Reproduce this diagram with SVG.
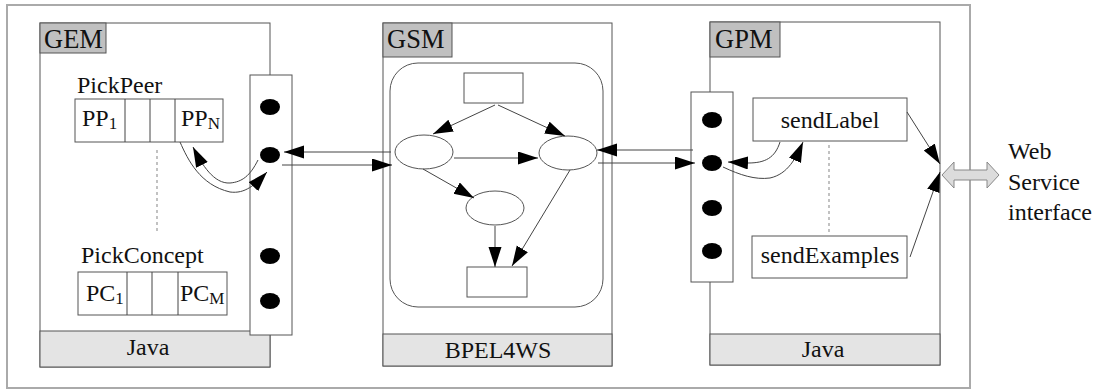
<svg xmlns="http://www.w3.org/2000/svg" width="1100" height="391" viewBox="0 0 1100 391">
<style>
.t{font-family:"Liberation Serif","Times New Roman",serif;font-size:24px;fill:#111}
.L{font-size:26.5px}
.s{font-size:17px}
.box{fill:#fff;stroke:#555;stroke-width:1}
.lab{fill:#c0c0c0;stroke:#555;stroke-width:1}
.bar{fill:#e4e4e4;stroke:#555;stroke-width:1}
.ln{fill:none;stroke:#444;stroke-width:1}
.dash{fill:none;stroke:#999;stroke-width:1.2;stroke-dasharray:3,3}
.dot{fill:#000}
</style>
<defs>
<marker id="ah" markerWidth="21" markerHeight="14" refX="20" refY="6.5" orient="auto" markerUnits="userSpaceOnUse">
<path d="M0,0 L20,6.5 L0,13 z" fill="#000"/>
</marker>
</defs>
<rect x="7" y="5" width="963" height="383" fill="#fff" stroke="#aaa" stroke-width="2"/>

<g id="GEM">
<rect class="box" x="40" y="23" width="230" height="344"/>
<rect class="bar" x="40" y="331" width="230" height="36"/>
<text class="t" x="148" y="355" text-anchor="middle">Java</text>
<rect class="lab" x="40" y="23" width="66" height="30"/>
<text class="t L" x="44" y="48">GEM</text>
<text class="t" x="77" y="93">PickPeer</text>
<rect class="box" x="75" y="99" width="148" height="43"/>
<path class="ln" d="M125,99 V142 M150,99 V142 M175,99 V142"/>
<text class="t" x="82" y="126">PP<tspan class="s" dy="3">1</tspan></text>
<text class="t" x="181" y="126">PP<tspan class="s" dy="3">N</tspan></text>
<line class="dash" x1="157" y1="150" x2="157" y2="233"/>
<text class="t" x="81" y="263">PickConcept</text>
<rect class="box" x="78" y="272" width="149" height="43"/>
<path class="ln" d="M127,272 V315 M152,272 V315 M178,272 V315"/>
<text class="t" x="86" y="301">PC<tspan class="s" dy="3">1</tspan></text>
<text class="t" x="180" y="301">PC<tspan class="s" dy="3">M</tspan></text>
</g>

<g id="GEM-interface">
<rect class="box" x="250" y="75" width="42" height="260"/>
<ellipse class="dot" cx="270" cy="107" rx="10" ry="8"/>
<ellipse class="dot" cx="270" cy="155" rx="10" ry="8"/>
<ellipse class="dot" cx="270" cy="256" rx="10" ry="8"/>
<ellipse class="dot" cx="270" cy="301" rx="10" ry="8"/>
</g>

<g id="GSM">
<rect class="box" x="383" y="23" width="229" height="343"/>
<rect class="bar" x="383" y="334" width="229" height="32"/>
<text class="t" x="498" y="358" text-anchor="middle">BPEL4WS</text>
<rect class="lab" x="383" y="23" width="69" height="34"/>
<text class="t L" x="387" y="48">GSM</text>
<rect class="box" x="390" y="63" width="213" height="244" rx="28" ry="28"/>
<rect class="box" x="464" y="73" width="59" height="30"/>
<ellipse class="box" cx="424" cy="152" rx="29" ry="17"/>
<ellipse class="box" cx="568" cy="153" rx="29" ry="17"/>
<ellipse class="box" cx="495" cy="208" rx="29" ry="17"/>
<rect class="box" x="467" y="267" width="60" height="30"/>
</g>

<g id="GPM">
<rect class="box" x="710" y="22" width="230" height="343"/>
<rect class="bar" x="710" y="334" width="230" height="31"/>
<text class="t" x="823" y="357" text-anchor="middle">Java</text>
<rect class="lab" x="710" y="22" width="70" height="35"/>
<text class="t L" x="715" y="48">GPM</text>
<rect class="box" x="753" y="98" width="154" height="43"/>
<text class="t" x="830" y="128" text-anchor="middle">sendLabel</text>
<rect class="box" x="752" y="236" width="155" height="42"/>
<text class="t" x="830" y="263" text-anchor="middle">sendExamples</text>
<line class="dash" x1="829" y1="145" x2="829" y2="232"/>
</g>

<g id="GPM-interface">
<rect class="box" x="691" y="92" width="42" height="190"/>
<ellipse class="dot" cx="712" cy="120" rx="10" ry="8"/>
<ellipse class="dot" cx="712" cy="163" rx="10" ry="8"/>
<ellipse class="dot" cx="712" cy="208" rx="10" ry="8"/>
<ellipse class="dot" cx="712" cy="251" rx="10" ry="8"/>
</g>

<g id="web-service">
<polygon points="942,175 954,162 954,170 987,170 987,162 999,175 987,188 987,180 954,180 954,188" fill="#dcdcdc" stroke="#888" stroke-width="1"/>
<text class="t" x="1008" y="159">Web</text>
<text class="t" x="1008" y="190">Service</text>
<text class="t" x="1008" y="220">interface</text>
</g>

<g id="connectors">
<path class="ln" d="M495,105 L433,134" marker-end="url(#ah)"/>
<path class="ln" d="M498,105 L565,136" marker-end="url(#ah)"/>
<path class="ln" d="M454,158 L538,158" marker-end="url(#ah)"/>
<path class="ln" d="M423,169 L474,198" marker-end="url(#ah)"/>
<path class="ln" d="M495,226 L495,267" marker-end="url(#ah)"/>
<path class="ln" d="M570,170 L512,266" marker-end="url(#ah)"/>
<path class="ln" d="M391,152 L284,152" marker-end="url(#ah)"/>
<path class="ln" d="M282,165 L392,165" marker-end="url(#ah)"/>
<path class="ln" d="M693,150 L597,150" marker-end="url(#ah)"/>
<path class="ln" d="M598,163 L695,163" marker-end="url(#ah)"/>
<path class="ln" d="M258,160 C250,176 242,182 230,183 C214,184 202,165 193,147" marker-end="url(#ah)"/>
<path class="ln" d="M180,142 C188,160 200,185 230,192 C245,194 255,185 267,172" marker-end="url(#ah)"/>
<path class="ln" d="M780,142 C775,158 765,163 748,163 L728,162" marker-end="url(#ah)"/>
<path class="ln" d="M723,167 C740,175 755,180 770,178 C788,174 796,158 803,142" marker-end="url(#ah)"/>
<path class="ln" d="M907,112 L940,164" marker-end="url(#ah)"/>
<path class="ln" d="M910,257 L940,172" marker-end="url(#ah)"/>
</g>
</svg>
